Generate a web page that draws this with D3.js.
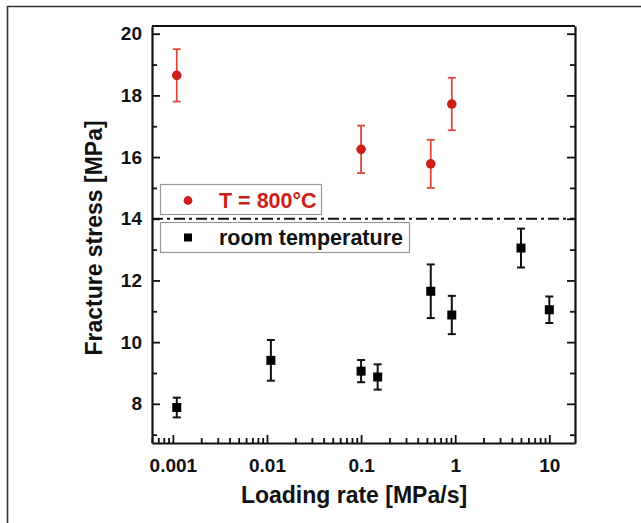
<!DOCTYPE html>
<html><head><meta charset="utf-8">
<script src="https://cdn.jsdelivr.net/npm/d3@7"></script>
<style>html,body{margin:0;padding:0;background:#fff}</style>
</head><body>
<svg id="c" width="641" height="523"></svg>
<script>
// Data
const hotRate   = [0.0011, 0.1, 0.55, 0.92];
const hotStress = [18.65, 16.25, 15.78, 17.72];
const hotErr    = [0.85, 0.77, 0.78, 0.85];

const rtRate   = [0.0011, 0.011, 0.1, 0.15, 0.55, 0.92, 5, 10];
const rtStress = [7.88, 9.41, 9.06, 8.87, 11.65, 10.88, 13.05, 11.05];
const rtErr    = [0.32, 0.66, 0.36, 0.41, 0.87, 0.62, 0.63, 0.43];

const xTickVals = [0.001, 0.01, 0.1, 1, 10];
const xTickLabels = ["0.001", "0.01", "0.1", "1", "10"];
const yTickVals = [8, 10, 12, 14, 16, 18, 20];
const dividerY = 14;
const legendLabels = ["T = 800°C", "room temperature"];

const svg = d3.select("#c");
const L = 152, R = 575, T = 26, B = 443;
const x = d3.scaleLog().domain([0.0006, 18.75]).range([L, R]);
const y = d3.scaleLinear().domain([6.73, 20.25]).range([B, T]);
const FONT = "'Liberation Sans', Arial, sans-serif";
const red = "#cc1f1a", redErr = "#dd4a3c";

// outer frame
svg.append("path").attr("d", "M7.5,523 L7.5,6.5 L641,6.5")
  .attr("fill", "none").attr("stroke", "#333").attr("stroke-width", 1.6);

// minor ticks
const xMinor = [];
for (let e = -4; e <= 1; e++) for (let m = 2; m <= 9; m++) {
  const v = m * Math.pow(10, e);
  if (v > 0.0006 && v < 18.75) xMinor.push(v);
}
const yMinor = d3.range(7, 21, 2);

const g = svg.append("g");
// bottom axis
const xAxis = d3.axisBottom(x).tickValues(xTickVals).tickFormat((d, i) => xTickLabels[i])
  .tickSizeInner(-8).tickSizeOuter(0).tickPadding(16);
const gx = g.append("g").attr("transform", `translate(0,${B})`).call(xAxis);
gx.append("g").call(d3.axisBottom(x).tickValues(xMinor).tickFormat("").tickSizeInner(-5).tickSizeOuter(0))
  .select(".domain").remove();

// left axis
const yAxis = d3.axisLeft(y).tickValues(yTickVals).tickFormat(d3.format("d"))
  .tickSizeInner(-8).tickSizeOuter(0).tickPadding(10);
const gy = g.append("g").attr("transform", `translate(${L},0)`).call(yAxis);
gy.append("g").call(d3.axisLeft(y).tickValues(yMinor).tickFormat("").tickSizeInner(-5).tickSizeOuter(0))
  .select(".domain").remove();

// right axis
const gr = g.append("g").attr("transform", `translate(${R},0)`)
  .call(d3.axisRight(y).tickValues(yTickVals).tickFormat("").tickSizeInner(-8).tickSizeOuter(0));
gr.append("g").call(d3.axisRight(y).tickValues(yMinor).tickFormat("").tickSizeInner(-5).tickSizeOuter(0))
  .select(".domain").remove();

// top axis line
g.append("line").attr("x1", L).attr("x2", R).attr("y1", T).attr("y2", T)
  .attr("stroke", "#111").attr("stroke-width", 2.2);

g.selectAll(".domain").attr("stroke", "#111").attr("stroke-width", 2.2);
g.selectAll(".tick line").attr("stroke", "#111").attr("stroke-width", 1.8);
g.selectAll(".tick text").attr("font-family", FONT).attr("font-weight", "bold")
  .attr("font-size", 19).attr("fill", "#111");

// divider line
svg.append("line").attr("x1", L).attr("x2", R).attr("y1", y(dividerY)).attr("y2", y(dividerY))
  .attr("stroke", "#111").attr("stroke-width", 2).attr("stroke-dasharray", "11,4,3,4");

// error bars helper
function errBars(rates, vals, errs, color, sw) {
  const cw = 4;
  const eg = svg.append("g").attr("stroke", color).attr("stroke-width", sw).attr("fill", "none");
  rates.forEach((r, i) => {
    const cx = x(r), y1 = y(vals[i] + errs[i]), y2 = y(vals[i] - errs[i]);
    eg.append("line").attr("x1", cx).attr("x2", cx).attr("y1", y1).attr("y2", y2);
    eg.append("line").attr("x1", cx - cw).attr("x2", cx + cw).attr("y1", y1).attr("y2", y1);
    eg.append("line").attr("x1", cx - cw).attr("x2", cx + cw).attr("y1", y2).attr("y2", y2);
  });
}
errBars(hotRate, hotStress, hotErr, redErr, 1.8);
errBars(rtRate, rtStress, rtErr, "#111", 2);

svg.append("g").selectAll("circle").data(hotRate).join("circle")
  .attr("cx", d => x(d)).attr("cy", (d, i) => y(hotStress[i])).attr("r", 4.8).attr("fill", red);
svg.append("g").selectAll("rect").data(rtRate).join("rect")
  .attr("x", d => x(d) - 4.5).attr("y", (d, i) => y(rtStress[i]) - 4.5)
  .attr("width", 9).attr("height", 9).attr("fill", "#000");

// legend
const lg = svg.append("g");
lg.append("rect").attr("x", 160.5).attr("y", 184.5).attr("width", 161).attr("height", 30)
  .attr("fill", "#fff").attr("stroke", "#999").attr("stroke-width", 1.2);
lg.append("rect").attr("x", 160.5).attr("y", 222.5).attr("width", 249).attr("height", 30)
  .attr("fill", "#fff").attr("stroke", "#999").attr("stroke-width", 1.2);
lg.append("circle").attr("cx", 188).attr("cy", 200.5).attr("r", 4.4).attr("fill", red);
lg.append("rect").attr("x", 184).attr("y", 233.5).attr("width", 8).attr("height", 8).attr("fill", "#000");
lg.append("text").attr("x", 219).attr("y", 207.5).text(legendLabels[0])
  .attr("font-family", FONT).attr("font-weight", "bold").attr("font-size", 21.5).attr("fill", red);
lg.append("text").attr("x", 219).attr("y", 245).text(legendLabels[1])
  .attr("font-family", FONT).attr("font-weight", "bold").attr("font-size", 21.5).attr("fill", "#111");

// axis titles
svg.append("text").attr("x", 354).attr("y", 503).attr("text-anchor", "middle")
  .text("Loading rate [MPa/s]").attr("font-family", FONT).attr("font-weight", "bold")
  .attr("font-size", 23).attr("fill", "#111");
svg.append("text").attr("transform", "translate(102,238) rotate(-90)").attr("text-anchor", "middle")
  .text("Fracture stress [MPa]").attr("font-family", FONT).attr("font-weight", "bold")
  .attr("font-size", 23).attr("fill", "#111");
</script>
</body></html>
